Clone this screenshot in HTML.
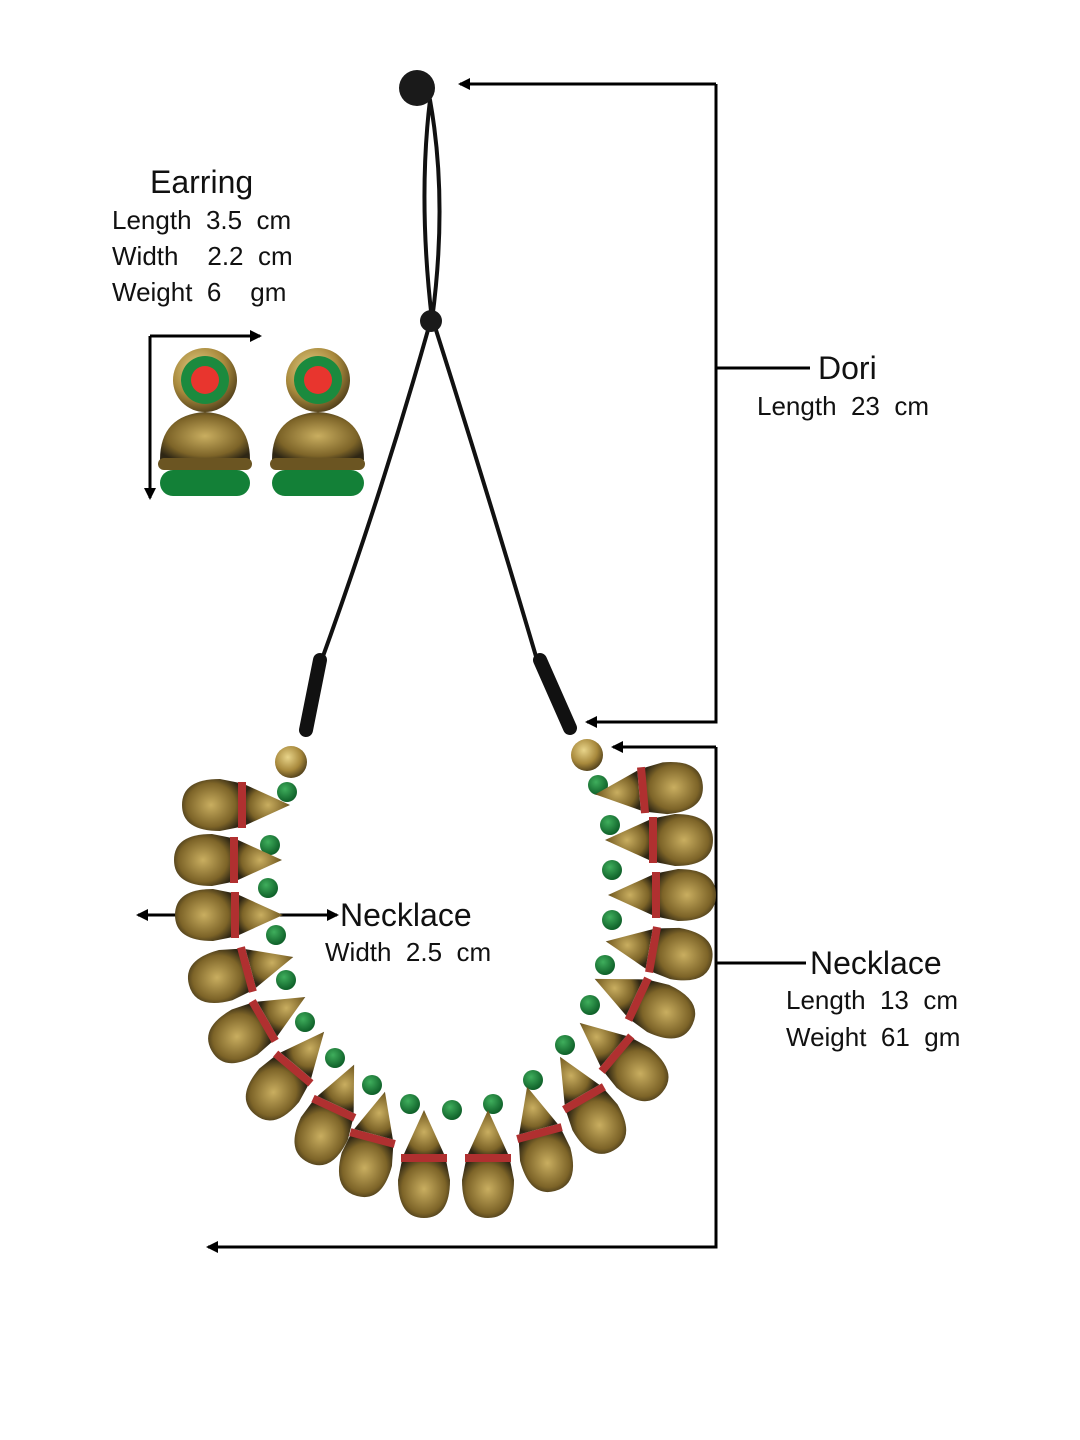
<!DOCTYPE html>
<html><head><meta charset="utf-8"><style>
html,body{margin:0;padding:0;background:#fff;}
svg{display:block;}
text{font-family:"Liberation Sans",sans-serif;fill:#111;white-space:pre;}
</style></head><body>
<svg width="1080" height="1440" viewBox="0 0 1080 1440" xmlns="http://www.w3.org/2000/svg" xml:space="preserve">
<defs>
<marker id="ar" markerWidth="12" markerHeight="12" refX="10" refY="6" orient="auto" markerUnits="userSpaceOnUse"><path d="M0,0 L12,6 L0,12 z" fill="#000"/></marker>
<radialGradient id="gold" cx="40%" cy="35%" r="70%"><stop offset="0" stop-color="#e8d48a"/><stop offset="0.6" stop-color="#a8893c"/><stop offset="1" stop-color="#4a3a18"/></radialGradient>
<radialGradient id="pend" cx="50%" cy="50%" r="60%"><stop offset="0" stop-color="#c9ae60"/><stop offset="0.7" stop-color="#7d6428"/><stop offset="1" stop-color="#2e2614"/></radialGradient>
<radialGradient id="grn" cx="40%" cy="35%" r="70%"><stop offset="0" stop-color="#3fae5c"/><stop offset="1" stop-color="#0b5a25"/></radialGradient>
<g id="pd">
<path d="M-26,-10 Q-26,-48 0,-48 Q26,-48 26,-10 L22,10 L-22,10 Z" fill="url(#pend)"/>
<rect x="-23" y="8" width="46" height="8" fill="#b03030"/>
<path d="M-20,16 L20,16 L0,60 Z" fill="url(#pend)"/>
</g>
</defs>

<text x="150" y="193" font-size="32">Earring</text>
<text x="112" y="229" font-size="26">Length  3.5  cm</text>
<text x="112" y="265" font-size="26">Width    2.2  cm</text>
<text x="112" y="301" font-size="26">Weight  6    gm</text>
<text x="818" y="379" font-size="32">Dori</text>
<text x="757" y="415" font-size="26">Length  23  cm</text>
<text x="340" y="926" font-size="32">Necklace</text>
<text x="325" y="961" font-size="26">Width  2.5  cm</text>
<text x="810" y="974" font-size="32">Necklace</text>
<text x="786" y="1009" font-size="26">Length  13  cm</text>
<text x="786" y="1046" font-size="26">Weight  61  gm</text>

<g stroke="#000" stroke-width="3" fill="none">
<path d="M716,84 L716,722 L587,722" marker-end="url(#ar)"/>
<path d="M716,84 L460,84" marker-end="url(#ar)"/>
<path d="M716,368 L810,368"/>
<path d="M716,747 L716,1247 L208,1247" marker-end="url(#ar)"/>
<path d="M716,747 L613,747" marker-end="url(#ar)"/>
<path d="M716,963 L806,963"/>
<path d="M150,336 L150,498" marker-end="url(#ar)"/>
<path d="M150,336 L260,336" marker-end="url(#ar)"/>
<path d="M238,915 L138,915" marker-end="url(#ar)"/>
<path d="M238,915 L337,915" marker-end="url(#ar)"/>
</g>

<g stroke="#111" fill="none" stroke-linecap="round">
<path d="M430,100 Q448,200 432,320 Q418,200 430,100" stroke-width="4"/>
<path d="M428,330 Q380,500 318,670" stroke-width="4"/>
<path d="M436,330 Q490,500 540,670" stroke-width="4"/>
<path d="M320,660 L306,730" stroke-width="14"/>
<path d="M540,660 L570,728" stroke-width="14"/>
</g>
<circle cx="417" cy="88" r="18" fill="#1a1a1a"/>
<circle cx="431" cy="321" r="11" fill="#1a1a1a"/>
<circle cx="291" cy="762" r="16" fill="url(#gold)"/>
<circle cx="587" cy="755" r="16" fill="url(#gold)"/>

<g fill="url(#grn)">
<circle cx="287" cy="792" r="10"/><circle cx="270" cy="845" r="10"/><circle cx="268" cy="888" r="10"/><circle cx="276" cy="935" r="10"/><circle cx="286" cy="980" r="10"/><circle cx="305" cy="1022" r="10"/><circle cx="335" cy="1058" r="10"/><circle cx="372" cy="1085" r="10"/><circle cx="410" cy="1104" r="10"/><circle cx="452" cy="1110" r="10"/><circle cx="493" cy="1104" r="10"/><circle cx="533" cy="1080" r="10"/><circle cx="565" cy="1045" r="10"/><circle cx="590" cy="1005" r="10"/><circle cx="605" cy="965" r="10"/><circle cx="612" cy="920" r="10"/><circle cx="612" cy="870" r="10"/><circle cx="610" cy="825" r="10"/><circle cx="598" cy="785" r="10"/>
</g>

<use href="#pd" transform="translate(240,805) rotate(-90) translate(0,-10)"/>
<use href="#pd" transform="translate(232,860) rotate(-90) translate(0,-10)"/>
<use href="#pd" transform="translate(233,915) rotate(-90) translate(0,-10)"/>
<use href="#pd" transform="translate(245,970) rotate(-105) translate(0,-10)"/>
<use href="#pd" transform="translate(262,1022) rotate(-120) translate(0,-10)"/>
<use href="#pd" transform="translate(292,1070) rotate(-140) translate(0,-10)"/>
<use href="#pd" transform="translate(333,1110) rotate(-155) translate(0,-10)"/>
<use href="#pd" transform="translate(372,1140) rotate(-165) translate(0,-10)"/>
<use href="#pd" transform="translate(424,1160) rotate(180) translate(0,-10)"/>
<use href="#pd" transform="translate(488,1160) rotate(180) translate(0,-10)"/>
<use href="#pd" transform="translate(540,1135) rotate(165) translate(0,-10)"/>
<use href="#pd" transform="translate(585,1100) rotate(150) translate(0,-10)"/>
<use href="#pd" transform="translate(618,1055) rotate(130) translate(0,-10)"/>
<use href="#pd" transform="translate(640,1000) rotate(115) translate(0,-10)"/>
<use href="#pd" transform="translate(655,950) rotate(100) translate(0,-10)"/>
<use href="#pd" transform="translate(658,895) rotate(90) translate(0,-10)"/>
<use href="#pd" transform="translate(655,840) rotate(90) translate(0,-10)"/>
<use href="#pd" transform="translate(645,790) rotate(85) translate(0,-10)"/>

<g>
<circle cx="205" cy="380" r="32" fill="url(#gold)"/>
<circle cx="205" cy="380" r="24" fill="#1b8a3e"/>
<circle cx="205" cy="380" r="14" fill="#e8352e"/>
<path d="M160,460 Q160,415 205,412 Q250,415 250,460 Z" fill="url(#pend)"/>
<rect x="158" y="458" width="94" height="12" rx="6" fill="#6b5522"/>
<rect x="160" y="470" width="90" height="26" rx="13" fill="#138037"/>
<circle cx="318" cy="380" r="32" fill="url(#gold)"/>
<circle cx="318" cy="380" r="24" fill="#1b8a3e"/>
<circle cx="318" cy="380" r="14" fill="#e8352e"/>
<path d="M272,460 Q272,415 318,412 Q364,415 364,460 Z" fill="url(#pend)"/>
<rect x="270" y="458" width="95" height="12" rx="6" fill="#6b5522"/>
<rect x="272" y="470" width="92" height="26" rx="13" fill="#138037"/>
</g>
</svg>
</body></html>
